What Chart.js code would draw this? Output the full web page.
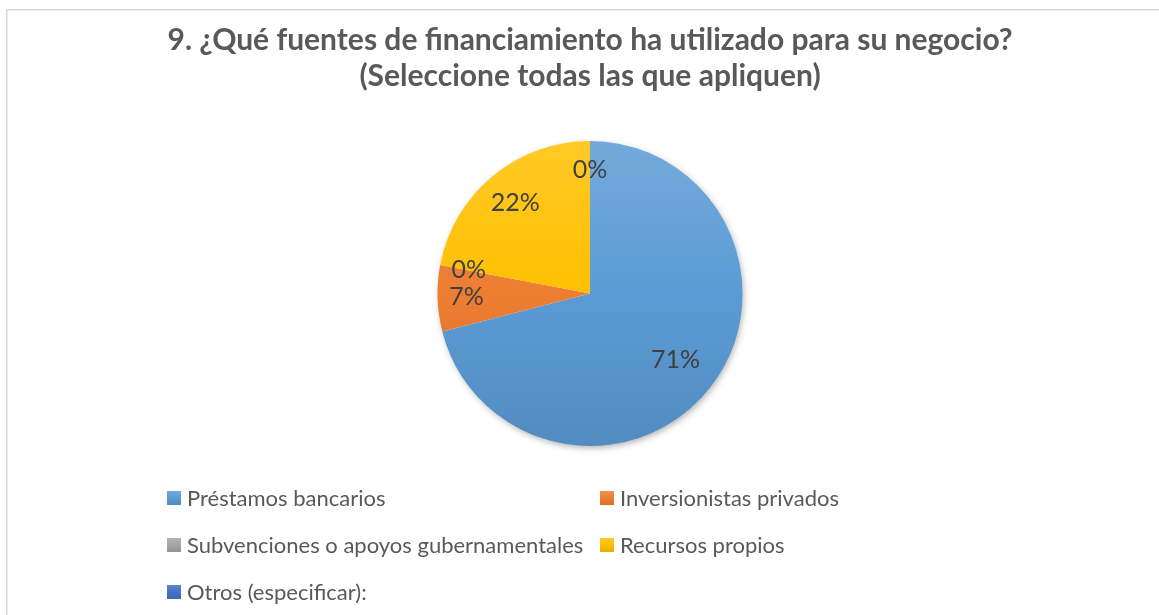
<!DOCTYPE html>
<html><head><meta charset="utf-8">
<script src="https://cdn.jsdelivr.net/npm/chart.js@4"></script>
<style>html,body{margin:0;padding:0;background:#fff;overflow:hidden}#wrap{position:relative;width:1159px;height:615px}canvas{display:block}</style>
</head><body><div id="wrap"><canvas id="c" width="1159" height="615" style="width:1159px;height:615px"></canvas></div>
<script>
const titleLines = ['9. ¿Qué fuentes de financiamiento ha utilizado para su negocio?', '(Seleccione todas las que apliquen)'];
const categories = ['Préstamos bancarios', 'Inversionistas privados', 'Subvenciones o apoyos gubernamentales', 'Recursos propios', 'Otros (especificar):'];
const percentages = [71, 7, 0, 22, 0];
const sliceColors = ['#5B9BD5', '#ED7D31', '#A5A5A5', '#FFC000', '#4472C4'];

const FONT = 'Lato, "Open Sans", sans-serif';

function shade(hex, f) {
  const n = parseInt(hex.slice(1), 16);
  let r = (n >> 16) & 255, g = (n >> 8) & 255, b = n & 255;
  if (f > 0) { r += (255 - r) * f; g += (255 - g) * f; b += (255 - b) * f; }
  else { r *= (1 + f); g *= (1 + f); b *= (1 + f); }
  return `rgb(${Math.round(r)},${Math.round(g)},${Math.round(b)})`;
}
function gradFill(ctx, color, top, bottom) {
  const g = ctx.createLinearGradient(0, top, 0, bottom);
  g.addColorStop(0, shade(color, 0.15));
  g.addColorStop(0.5, color);
  g.addColorStop(1, shade(color, -0.1));
  return g;
}

const pieShadow = {
  id: 'pieShadow',
  beforeDatasetsDraw(chart) {
    const arc = chart.getDatasetMeta(0).data[0];
    if (!arc) return;
    const { x, y, outerRadius } = arc.getProps(['x', 'y', 'outerRadius'], true);
    const ctx = chart.ctx;
    ctx.save();
    ctx.shadowColor = 'rgba(0,0,0,0.35)';
    ctx.shadowBlur = 7;
    ctx.shadowOffsetX = 1.5;
    ctx.shadowOffsetY = 2.5;
    ctx.beginPath();
    ctx.arc(x, y, outerRadius - 1, 0, Math.PI * 2);
    ctx.fillStyle = '#fff';
    ctx.fill();
    ctx.restore();
  }
};

const pieLabels = {
  id: 'pieLabels',
  afterDatasetsDraw(chart, args, opts) {
    const ctx = chart.ctx;
    const meta = chart.getDatasetMeta(0);
    const data = chart.data.datasets[0].data;
    ctx.save();
    ctx.font = opts.font;
    ctx.fillStyle = opts.color;
    ctx.textAlign = 'center';
    ctx.textBaseline = 'middle';
    meta.data.forEach((arc, i) => {
      const p = arc.getProps(['x', 'y', 'startAngle', 'endAngle', 'outerRadius'], true);
      const mid = (p.startAngle + p.endAngle) / 2;
      const rr = p.outerRadius * opts.radial[i];
      ctx.fillText(data[i] + '%', p.x + Math.cos(mid) * rr, p.y + Math.sin(mid) * rr);
    });
    ctx.restore();
  }
};

const gridLegend = {
  id: 'gridLegend',
  afterDraw(chart, args, opts) {
    const ctx = chart.ctx;
    const labels = chart.data.labels;
    ctx.save();
    ctx.font = opts.font;
    ctx.textBaseline = 'middle';
    ctx.textAlign = 'left';
    labels.forEach((lab, i) => {
      const col = i % 2, row = Math.floor(i / 2);
      const x = opts.colX[col], y = opts.rowY[row];
      const s = opts.box;
      ctx.fillStyle = gradFill(ctx, sliceColors[i], y - s / 2, y + s / 2);
      ctx.fillRect(x, y - s / 2, s, s);
      ctx.fillStyle = opts.color;
      ctx.fillText(lab, x + s + opts.gap, y + 1);
    });
    ctx.restore();
  }
};

const frame = {
  id: 'frame',
  beforeDraw(chart) {
    const ctx = chart.ctx;
    ctx.save();
    ctx.fillStyle = '#fff';
    ctx.fillRect(0, 0, chart.width, chart.height);
    ctx.strokeStyle = '#D9D9D9';
    ctx.lineWidth = 1.5;
    ctx.beginPath();
    ctx.moveTo(6.75, chart.height + 5);
    ctx.lineTo(6.75, 9.75);
    ctx.lineTo(chart.width + 5, 9.75);
    ctx.stroke();
    ctx.restore();
  }
};

new Chart(document.getElementById('c'), {
  type: 'pie',
  data: {
    labels: categories,
    datasets: [{
      data: percentages,
      backgroundColor: (c) => {
        const col = sliceColors[c.dataIndex];
        const a = c.chart.chartArea;
        if (!a) return col;
        return gradFill(c.chart.ctx, col, a.top, a.bottom);
      },
      borderWidth: 0,
      hoverOffset: 0
    }]
  },
  options: {
    responsive: false,
    maintainAspectRatio: false,
    animation: false,
    events: [],
    devicePixelRatio: 1,
    layout: { padding: { top: 0, left: 21, right: 0, bottom: 169 } },
    plugins: {
      legend: { display: false },
      tooltip: { enabled: false },
      title: {
        display: true,
        text: titleLines,
        color: '#595959',
        font: { family: FONT, size: 30, weight: 'bold', lineHeight: 1.2 },
        padding: { top: 22, bottom: 47 }
      },
      pieLabels: { font: '25px ' + FONT, color: '#404040', radial: [0.71, 0.81, 0.81, 0.77, 0.81] },
      gridLegend: { font: '22px ' + FONT, color: '#595959', colX: [167, 600], rowY: [498, 545, 592], box: 14, gap: 6 }
    }
  },
  plugins: [frame, pieShadow, pieLabels, gridLegend]
});
</script>
</body></html>
